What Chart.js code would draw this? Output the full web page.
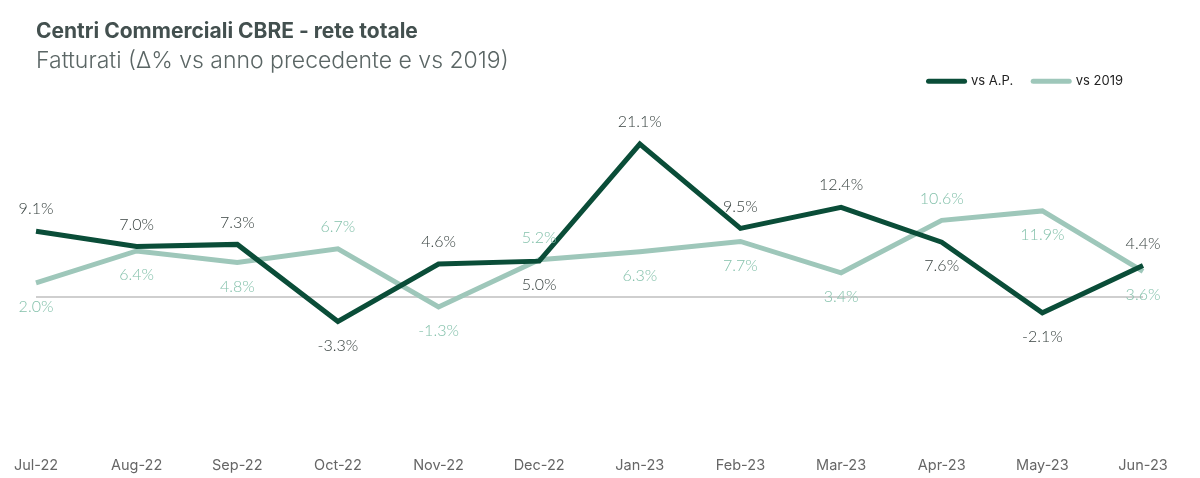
<!DOCTYPE html>
<html>
<head>
<meta charset="utf-8">
<script src="https://cdn.jsdelivr.net/npm/chart.js@4.4.0/dist/chart.umd.min.js"></script>
<style>
  html, body { margin: 0; padding: 0; background: #fff; }
  #wrap { width: 1200px; height: 478px; position: relative; }
</style>
</head>
<body>
<div id="wrap"><canvas id="chart"></canvas></div>
<script>
const months = ['Jul-22', 'Aug-22', 'Sep-22', 'Oct-22', 'Nov-22', 'Dec-22', 'Jan-23', 'Feb-23', 'Mar-23', 'Apr-23', 'May-23', 'Jun-23'];
const vsAP = [9.1, 7.0, 7.3, -3.3, 4.6, 5.0, 21.1, 9.5, 12.4, 7.6, -2.1, 4.4];
const vs2019 = [2.0, 6.4, 4.8, 6.7, -1.3, 5.2, 6.3, 7.7, 3.4, 10.6, 11.9, 3.6];
// where each value label sits: 'a' above the point, 'b' below
const apLabelSide = ['a', 'a', 'a', 'b', 'a', 'b', 'a', 'a', 'a', 'b', 'b', 'a'];
const y19LabelSide = ['b', 'b', 'b', 'a', 'b', 'a', 'b', 'b', 'b', 'a', 'b', 'b'];

const DARK = '#0a4d38';
const LIGHT = '#9ec7ba';

// value labels drawn next to each point
const valueLabels = {
  id: 'valueLabels',
  afterDatasetsDraw(chart) {
    const ctx = chart.ctx;
    ctx.save();
    ctx.font = '300 16px Lato';
    ctx.textAlign = 'center';
    ctx.textBaseline = 'middle';
    chart.data.datasets.forEach((ds, di) => {
      const meta = chart.getDatasetMeta(di);
      const sides = di === 0 ? apLabelSide : y19LabelSide;
      ctx.fillStyle = di === 0 ? '#3a4442' : '#84c1ab';
      meta.data.forEach((pt, i) => {
        const off = sides[i] === 'a' ? -22 : 24;
        ctx.fillText(ds.data[i].toFixed(1) + '%', pt.x, pt.y + off);
      });
    });
    ctx.restore();
  }
};

const ctx = document.getElementById('chart').getContext('2d');
const chart = new Chart(ctx, {
  type: 'line',
  data: {
    labels: months,
    datasets: [
      {
        label: 'vs A.P.',
        data: vsAP,
        borderColor: DARK,
        backgroundColor: DARK,
        borderWidth: 5,
        pointRadius: 0,
        tension: 0,
        borderJoinStyle: 'miter'
      },
      {
        label: 'vs 2019',
        data: vs2019,
        borderColor: LIGHT,
        backgroundColor: LIGHT,
        borderWidth: 5,
        pointRadius: 0,
        tension: 0,
        borderJoinStyle: 'miter'
      }
    ]
  },
  options: {
    responsive: true,
    maintainAspectRatio: false,
    animation: false,
    layout: { padding: { left: 36, right: 57, top: 0, bottom: 0 } },
    plugins: {
      title: {
        display: true,
        text: 'Centri Commerciali CBRE - rete totale',
        align: 'start',
        color: '#43504f',
        font: { family: 'Inter', size: 21, weight: 'bold' },
        padding: { top: 19, bottom: 3 }
      },
      subtitle: {
        display: true,
        text: 'Fatturati (\u0394% vs anno precedente e vs 2019)',
        align: 'start',
        color: '#5b6665',
        font: { family: 'Inter', size: 23, weight: '300' },
        padding: { top: 0, bottom: -20 }
      },
      legend: {
        position: 'top',
        align: 'end',
        labels: {
          color: '#222',
          font: { family: 'Inter', size: 13 },
          usePointStyle: true,
          pointStyle: 'line',
          pointStyleWidth: 36,
          boxWidth: 36,
          padding: 20,
          generateLabels(c) {
            const items = Chart.defaults.plugins.legend.labels.generateLabels(c);
            items.forEach(it => { it.lineWidth = 5; it.lineCap = 'round'; });
            return items;
          }
        }
      },
      tooltip: { enabled: false }
    },
    scales: {
      x: {
        grid: { display: false },
        border: { display: false },
        afterFit: s => { s.height = 35; },
        ticks: {
          color: '#666',
          font: { family: 'Inter', size: 14.5 },
          padding: 6,
          maxRotation: 0
        }
      },
      y: {
        min: -20,
        max: 27.45,
        border: { display: false },
        ticks: { display: false, stepSize: 5 },
        grid: {
          drawTicks: false,
          color: c => c.tick && c.tick.value === 0 ? '#cfcfcf' : 'rgba(0,0,0,0)',
          lineWidth: c => c.tick && c.tick.value === 0 ? 2 : 0
        }
      }
    }
  },
  plugins: [valueLabels]
});
</script>
</body>
</html>
